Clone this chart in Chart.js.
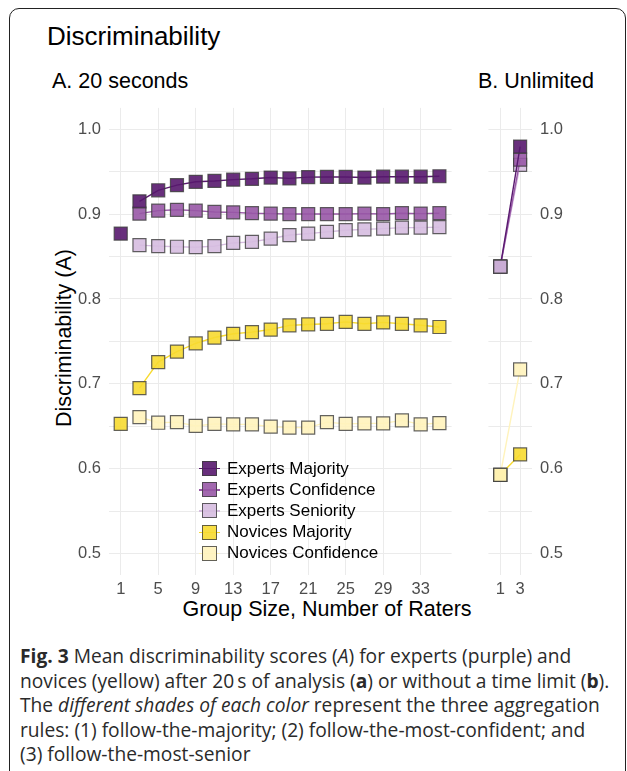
<!DOCTYPE html>
<html>
<head>
<meta charset="utf-8">
<script src="https://cdn.jsdelivr.net/npm/chart.js@4.4.1/dist/chart.umd.min.js"></script>
<style>
  body { margin: 0; background: #fff; width: 627px; height: 771px; position: relative; overflow: hidden;
         font-family: "Liberation Sans", Arial, sans-serif; color: #000; }
  .frame { position: absolute; left: 9px; top: 8px; width: 615px; height: 820px;
           border: 1.5px solid #222; border-radius: 10px; }
  .txt { position: absolute; white-space: nowrap; line-height: 1; }
  #title { left: 47px; top: 23px; font-size: 26px; }
  #panelA { left: 52px; top: 71px; font-size: 21.5px; }
  #panelB { left: 478px; top: 71px; font-size: 21.5px; }
  #ytitle { left: 65px; top: 338px; font-size: 21.5px; transform: translate(-50%, -50%) rotate(-90deg); }
  #xtitle { left: 327px; top: 599px; font-size: 21.5px; transform: translateX(-50%); }
  canvas { position: absolute; }
  #chartA { left: 50px; top: 90px; }
  #chartB { left: 478px; top: 90px; }
  #legend { position: absolute; left: 199px; top: 458px; }
  .row { height: 21.2px; display: flex; align-items: center; font-size: 17px; }
  .sym { position: relative; width: 21px; height: 16px; margin-right: 7px; }
  .sym .ln { position: absolute; left: 0; top: 7.5px; width: 21px; height: 1.3px; }
  .sym .sq { position: absolute; left: 3px; top: 0.5px; width: 13px; height: 13px; border: 1.2px solid rgba(60,60,60,0.8); }
  #caption { position: absolute; left: 20px; top: 644px; font-family: "Open Sans", sans-serif; font-size: 19.2px;
             line-height: 24.5px; color: #2a2a2a; letter-spacing: 0; white-space: nowrap; }
</style>
</head>
<body>
<div class="frame"></div>
<div class="txt" id="title">Discriminability</div>
<div class="txt" id="panelA">A. 20 seconds</div>
<div class="txt" id="panelB">B. Unlimited</div>
<div class="txt" id="ytitle">Discriminability (A)</div>
<div class="txt" id="xtitle">Group Size, Number of Raters</div>
<canvas id="chartA" width="412" height="520"></canvas>
<canvas id="chartB" width="100" height="520"></canvas>
<div id="legend"></div>
<div id="caption">
<b>Fig. 3</b> Mean discriminability scores (<i>A</i>) for experts (purple) and<br>
novices (yellow) after 20&#8201;s of analysis (<b>a</b>) or without a time limit (<b>b</b>).<br>
The <i>different shades of each color</i> represent the three aggregation<br>
rules: (1) follow-the-majority; (2) follow-the-most-confident; and<br>
(3) follow-the-most-senior
</div>
<script>
// series names and colours
const seriesLabels = ['Experts Majority', 'Experts Confidence', 'Experts Seniority', 'Novices Majority', 'Novices Confidence'];
const seriesColors = ['#58186e', '#9858a6', '#d6bde0', '#f7da30', '#fff3bc'];

// A. 20 seconds (group sizes 3..35)
const sizesA = [3, 5, 7, 9, 11, 13, 15, 17, 19, 21, 23, 25, 27, 29, 31, 33, 35];
const expMajA = [0.915, 0.928, 0.934, 0.938, 0.939, 0.9405, 0.9415, 0.943, 0.942, 0.9435, 0.9437, 0.9437, 0.943, 0.944, 0.944, 0.944, 0.9445];
const expConfA = [0.9005, 0.904, 0.905, 0.904, 0.9025, 0.902, 0.901, 0.9005, 0.900, 0.900, 0.900, 0.900, 0.9005, 0.900, 0.901, 0.9005, 0.901];
const expSenA = [0.8634, 0.8623, 0.8615, 0.861, 0.8623, 0.866, 0.8673, 0.871, 0.8753, 0.877, 0.879, 0.881, 0.882, 0.8828, 0.884, 0.884, 0.8846];
const novMajA = [0.695, 0.7257, 0.738, 0.7477, 0.7546, 0.759, 0.761, 0.764, 0.7689, 0.770, 0.7708, 0.773, 0.7708, 0.7724, 0.7708, 0.769, 0.767];
const novConfA = [0.661, 0.6543, 0.655, 0.6505, 0.653, 0.6524, 0.6524, 0.6497, 0.6485, 0.6485, 0.655, 0.653, 0.6535, 0.6535, 0.657, 0.6524, 0.6539];
// single rater (group size 1)
const singleSizeA = [1];
const singleExpA = [0.877];
const singleNovA = [0.653];

// B. Unlimited
const sizesB = [1, 3];
const expMajB = [0.838, 0.9795];
const expConfB = [0.838, 0.964];
const expSenB = [0.838, 0.958];
const novMajB = [0.593, 0.617];
const novConfB = [0.593, 0.717];

// axes
const yGrid = [0.5, 0.55, 0.6, 0.65, 0.7, 0.75, 0.8, 0.85, 0.9, 0.95, 1.0];
const xTicksA = [1, 5, 9, 13, 17, 21, 25, 29, 33];
const xTicksB = [1, 3];

const font = { family: '"Liberation Sans", Arial, sans-serif', size: 16.5 };
const gridColor = '#ebebeb';

function alpha(hex, a) {
    const n = parseInt(hex.slice(1), 16);
    return `rgba(${n >> 16}, ${(n >> 8) & 255}, ${n & 255}, ${a})`;
}

function pts(xs, ys) {
    return xs.map((x, i) => ({ x: x, y: ys[i] }));
}

function series(xs, ys, idx, order, showLine) {
    return {
        label: seriesLabels[idx],
        data: pts(xs, ys),
        showLine: showLine,
        borderColor: seriesColors[idx],
        borderWidth: 1.4,
        backgroundColor: alpha(seriesColors[idx], 0.9),
        pointBackgroundColor: alpha(seriesColors[idx], 0.9),
        pointBorderColor: 'rgba(60,60,60,0.8)',
        pointBorderWidth: 1.2,
        pointStyle: 'rect',
        pointRadius: 9.2,
        tension: 0,
        order: order,
        clip: false
    };
}

function yAxis(position, width) {
    return {
        type: 'linear',
        position: position,
        min: 0.475,
        max: 1.025,
        afterBuildTicks: axis => { axis.ticks = yGrid.map(v => ({ value: v })); },
        afterFit: scale => { scale.width = width; },
        grid: { color: gridColor, lineWidth: 1, drawTicks: false },
        border: { display: false },
        ticks: {
            autoSkip: false,
            padding: 8,
            color: '#4d4d4d',
            font: font,
            callback: v => (Math.round(v * 100) % 10 === 0 ? v.toFixed(1) : '')
        }
    };
}

function xAxis(min, max, ticks) {
    return {
        type: 'linear',
        min: min,
        max: max,
        afterBuildTicks: axis => { axis.ticks = ticks.map(v => ({ value: v })); },
        afterFit: scale => { scale.height = 35; },
        grid: { color: gridColor, lineWidth: 1, drawTicks: false },
        border: { display: false },
        ticks: { autoSkip: false, maxRotation: 0, padding: 5, color: '#4d4d4d', font: font }
    };
}

const commonOptions = {
    responsive: false,
    animation: false,
    devicePixelRatio: 1,
    plugins: { legend: { display: false }, tooltip: { enabled: false } }
};

new Chart(document.getElementById('chartA'), {
    type: 'line',
    data: {
        datasets: [
            series(sizesA, expMajA, 0, 3, true),
            series(sizesA, expConfA, 1, 4, true),
            series(sizesA, expSenA, 2, 5, true),
            series(sizesA, novMajA, 3, 6, true),
            series(sizesA, novConfA, 4, 7, true),
            series(singleSizeA, singleExpA, 0, 1, false),
            series(singleSizeA, singleNovA, 3, 1, false)
        ]
    },
    options: {
        ...commonOptions,
        layout: { padding: { top: 10, right: 0, bottom: 0, left: 0 } },
        scales: {
            x: xAxis(-0.25, 36.3, xTicksA),
            y: yAxis('left', 59)
        }
    }
});

new Chart(document.getElementById('chartB'), {
    type: 'line',
    data: {
        datasets: [
            series(sizesB, expMajB, 0, 3, true),
            series(sizesB, expConfB, 1, 4, true),
            series(sizesB, expSenB, 2, 5, true),
            series(sizesB, novMajB, 3, 6, true),
            series(sizesB, novConfB, 4, 7, true),
            series(sizesB.slice(0, 1), expSenB.slice(0, 1), 2, 1, false),
            series(sizesB.slice(0, 1), novConfB.slice(0, 1), 4, 1, false)
        ]
    },
    options: {
        ...commonOptions,
        layout: { padding: { top: 10, right: 0, bottom: 0, left: 2.5 } },
        scales: {
            x: xAxis(-0.2, 4.2, xTicksB),
            y: yAxis('right', 46)
        }
    }
});

// legend
const legend = document.getElementById('legend');
seriesLabels.forEach((name, i) => {
    const row = document.createElement('div');
    row.className = 'row';
    row.innerHTML = `<div class="sym"><div class="ln" style="background:${seriesColors[i]}"></div>` +
        `<div class="sq" style="background:${alpha(seriesColors[i], 0.9)}"></div></div><span>${name}</span>`;
    legend.appendChild(row);
});
</script>
</body>
</html>
